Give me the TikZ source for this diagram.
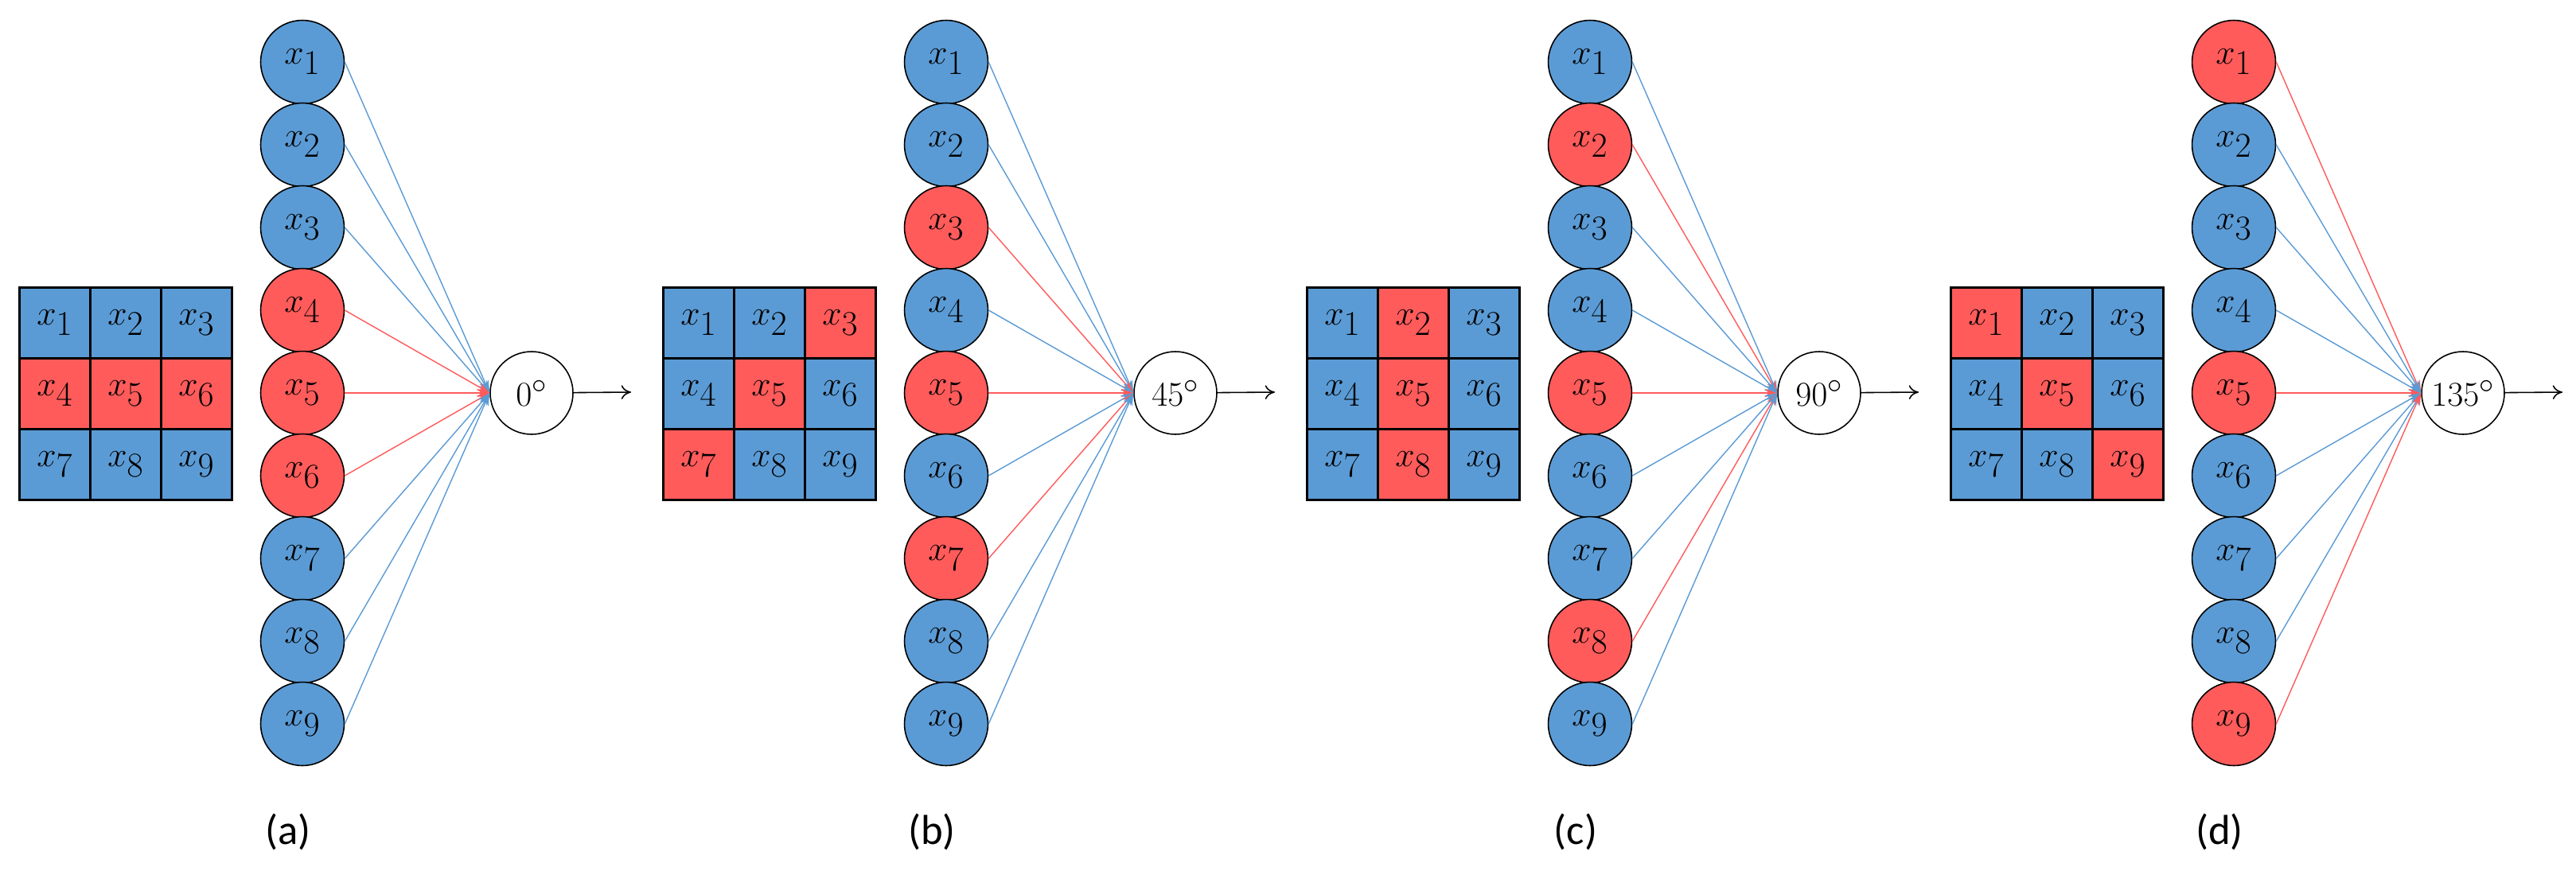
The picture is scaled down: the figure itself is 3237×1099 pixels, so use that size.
\documentclass[tikz,border=0pt]{standalone}
\usepackage{fontspec}
\newfontfamily\labfont{Carlito}
\usetikzlibrary{arrows.meta,positioning}
\definecolor{nblue}{HTML}{5B9BD5}
\definecolor{nred}{HTML}{FF5B5B}

\begin{document}
\begin{tikzpicture}[x=0.02cm,y=-0.02cm,
vertex/.style={circle, draw, line width=0.9pt, minimum size=2.1cm, inner sep=0pt, font=\fontsize{36}{40}\selectfont},
cell/.style={rectangle, draw, line width=1.2pt, minimum size=1.78cm, inner sep=0pt, font=\fontsize{36}{40}\selectfont},
output/.style={circle, draw, line width=0.9pt, minimum size=2.08cm, inner sep=0pt, font=\labfont\fontsize{29}{32}\selectfont},
edge/.style={line width=0.8pt, -{Stealth[length=9pt,width=6pt]}},
info/.style={draw=none,fill=none,inner sep=0pt,font=\labfont\fontsize{30}{34}\selectfont}]

\useasboundingbox (0,0) rectangle (3237,1099);

%% local variables
\def \hm {809}
\def \vm {104}
\def \cw {89}

\foreach \p/\ra/\rb/\rc/\ang/\lab in {0/4/5/6/0/a, 1/3/5/7/45/b, 2/2/5/8/90/c, 3/1/5/9/135/d}{
  %% column of inputs
  \foreach \s in {1,...,9}{
    \def\col{nblue}
    \ifnum\s=\ra \def\col{nred}\fi
    \ifnum\s=\rb \def\col{nred}\fi
    \ifnum\s=\rc \def\col{nred}\fi
    \node[vertex,fill=\col] (I-\p-\s) at ({380+\p*\hm},{78+(\s-1)*\vm}) {$x_{\s}$};
    %% grid cell
    \pgfmathtruncatemacro\r{(\s-1)/3}
    \pgfmathtruncatemacro\c{\s-1-3*\r}
    \node[cell,fill=\col] (C-\p-\s) at ({380+\p*\hm-311+\c*\cw},{406+\r*\cw}) {$x_{\s}$};
  }
  %% output neuron
  \node[output] (O-\p) at ({668+\p*\hm},494) {$\ang^\circ$};
  \coordinate (E-\p) at ({793+\p*\hm},493);
  \draw[line width=0.9pt,-{To[length=7pt,width=10pt]}] (O-\p) -- (E-\p);
  \node[info] (L-\p) at ({362+\p*\hm},1046) {(\lab)};
  %% edges
  \foreach \s in {1,...,9}{
    \def\col{nblue}
    \ifnum\s=\ra \def\col{nred}\fi
    \ifnum\s=\rb \def\col{nred}\fi
    \ifnum\s=\rc \def\col{nred}\fi
    \draw[edge,draw=\col,fill=\col] (I-\p-\s.east) -- (O-\p.west);
  }
}

\end{tikzpicture}
\end{document}
